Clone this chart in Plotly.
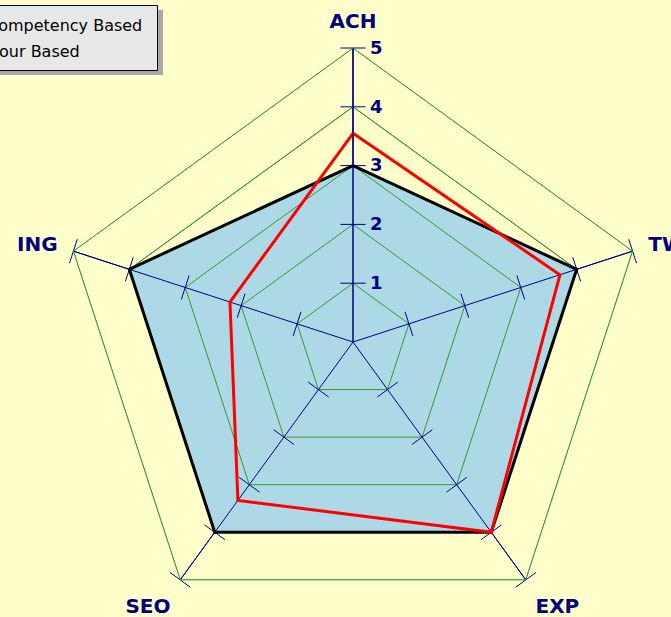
import plotly.graph_objects as go

categories = ["ACH", "TW", "EXP", "SEO", "ING"]
competency = [3, 4, 4, 4, 4]
behaviour = [3.55, 3.7, 4, 3.33, 2.2]
levels = [1, 2, 3, 4, 5]
series_names = ["Competency Based", "Hour Based"]

W, H = 671, 700
BG = "#FFFFCC"
NAVY = "#000080"
GREEN = "#339933"
FONT = "DejaVu Sans"

def closed(v):
    return list(v) + [v[0]]

theta_c = closed(categories)

fig = go.Figure()

fig.add_trace(go.Scatterpolar(
    r=closed(competency), theta=theta_c, mode="lines", fill="toself",
    fillcolor="#ADD8E6", line=dict(width=0, color="#ADD8E6"),
    showlegend=False, hoverinfo="skip", legendgroup="c"))

gr, gt = [], []
for lv in levels:
    gr += [lv] * (len(categories) + 1) + [None]
    gt += theta_c + [None]
fig.add_trace(go.Scatterpolar(r=gr, theta=gt, mode="lines",
                              line=dict(color=GREEN, width=1),
                              showlegend=False, hoverinfo="skip", connectgaps=False))

sr, st = [], []
for c in categories:
    sr += [0, levels[-1], None]
    st += [c, c, None]
fig.add_trace(go.Scatterpolar(r=sr, theta=st, mode="lines",
                              line=dict(color=NAVY, width=1),
                              showlegend=False, hoverinfo="skip", connectgaps=False))

tr, tt, ta = [], [], []
for i, c in enumerate(categories):
    for lv in levels:
        tr.append(lv)
        tt.append(c)
        ta.append(i * 360 / len(categories))
fig.add_trace(go.Scatterpolar(r=tr, theta=tt, mode="markers",
                              marker=dict(symbol="line-ew", size=18, angle=ta,
                                          line=dict(color=NAVY, width=1)),
                              showlegend=False, hoverinfo="skip"))

fig.add_trace(go.Scatterpolar(
    r=closed(competency), theta=theta_c, mode="lines", name=series_names[0],
    line=dict(color="black", width=3), legendgroup="c"))

fig.add_trace(go.Scatterpolar(
    r=closed(behaviour), theta=theta_c, mode="lines", name=series_names[1],
    line=dict(color="#FF0000", width=3), legendgroup="b"))

cx, cy, R = 353, 342, 294

def px(x):
    return x / W

def py(y):
    return 1 - y / H

shapes = [
    dict(type="rect", xref="paper", yref="paper", x0=px(-30), x1=px(163), y0=py(75), y1=py(10),
         fillcolor="#A8A8A8", line=dict(width=0), layer="above"),
    dict(type="rect", xref="paper", yref="paper", x0=px(-30), x1=px(157.5), y0=py(70.5), y1=py(5.5),
         fillcolor="#E8E8E8", line=dict(color="black", width=1), layer="above"),
]

fig.update_layout(
    width=W, height=H,
    margin=dict(l=0, r=0, t=0, b=0, autoexpand=False),
    paper_bgcolor=BG, plot_bgcolor=BG,
    showlegend=True,
    shapes=shapes,
    legend=dict(x=px(-53), xanchor="left", y=py(8), yanchor="top",
                bgcolor="rgba(0,0,0,0)", borderwidth=0,
                font=dict(family=FONT, size=16, color="black"),
                traceorder="grouped", tracegroupgap=2),
    polar=dict(
        domain=dict(x=[(cx - R) / W, (cx + R) / W], y=[(H - cy - R) / H, (H - cy + R) / H]),
        bgcolor=BG,
        gridshape="linear",
        radialaxis=dict(range=[0, 5], tickvals=levels, angle=90, tickangle=90,
                        showline=True, linecolor=NAVY, linewidth=1,
                        gridcolor=GREEN, ticks="outside", ticklen=13,
                        tickcolor="rgba(0,0,0,0)",
                        tickfont=dict(family=FONT, size=18, color=NAVY, weight="bold")),
        angularaxis=dict(rotation=90, direction="clockwise",
                         categoryarray=categories, categoryorder="array",
                         showline=True, linecolor=GREEN, linewidth=1,
                         gridcolor=NAVY, ticks="outside", ticklen=12,
                         tickcolor="rgba(0,0,0,0)",
                         tickfont=dict(family=FONT, size=20, color=NAVY, weight="bold")),
    ),
)

fig.write_html("out.html", config={"displayModeBar": False}, post_script=(
    "document.body.style.margin='0';"
    "document.body.style.overflow='hidden';"
    "document.documentElement.style.overflow='hidden';"))
